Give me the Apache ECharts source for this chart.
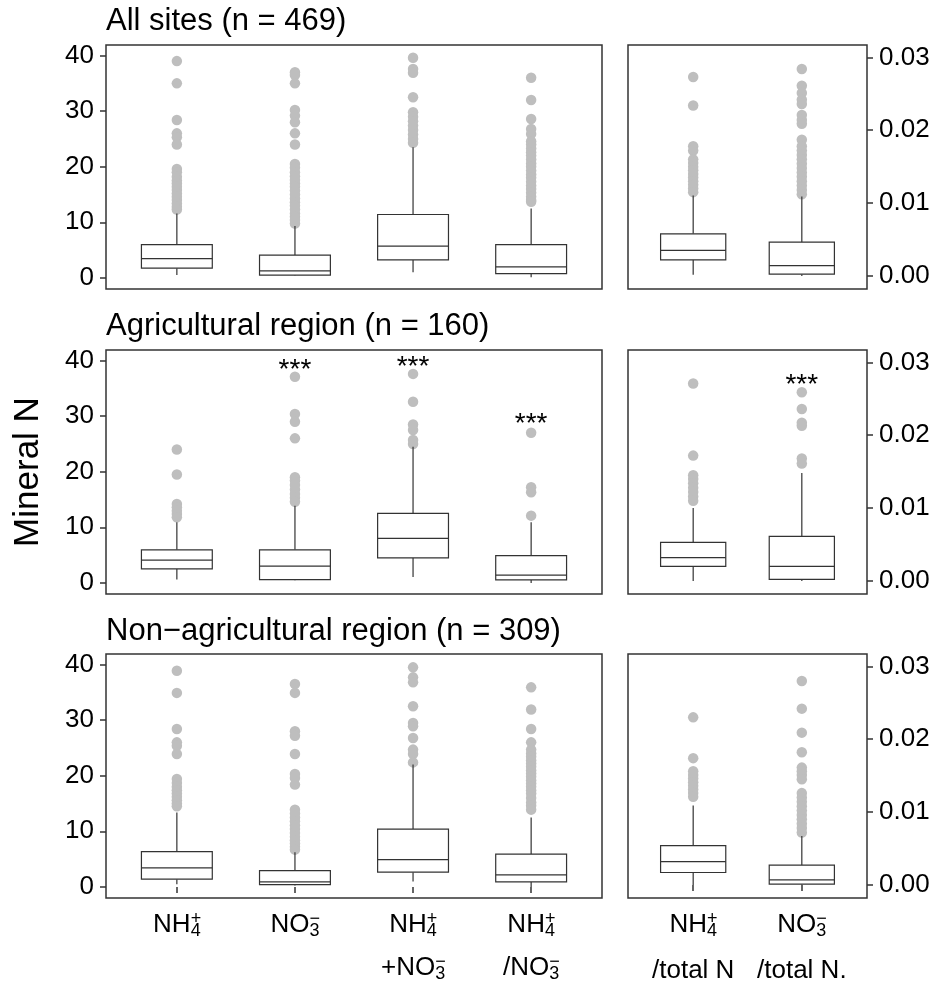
<!DOCTYPE html>
<html>
<head>
<meta charset="utf-8">
<script src="https://cdn.jsdelivr.net/npm/echarts@6/dist/echarts.min.js"></script>
<style>
html, body { margin: 0; padding: 0; background: #ffffff; }
#chart { width: 934px; height: 988px; }
</style>
</head>
<body>
<div id="chart"></div>
<script>
// ---------------- DATA ----------------
const leftCategories = ['NH4+', 'NO3-', 'NH4+ + NO3-', 'NH4+ / NO3-'];
const rightCategories = ['NH4+ / total N', 'NO3- / total N'];
const panelTitles = ['All sites (n = 469)', 'Agricultural region (n = 160)', 'Non\u2212agricultural region (n = 309)'];
const leftTickValues = [0, 10, 20, 30, 40];
const rightTickValues = [0, 0.01, 0.02, 0.03];
const leftLine1Labels = ['{m|NH}{sp|+}{sb|4}', '{m|NO}{sp|\u2212}{sb|3}', '{m|NH}{sp|+}{sb|4}', '{m|NH}{sp|+}{sb|4}'];
const leftLine2Labels = ['', '', '{m|+NO}{sp|\u2212}{sb|3}', '{m|/NO}{sp|\u2212}{sb|3}'];
const rightLine1Labels = ['{m|NH}{sp|+}{sb|4}', '{m|NO}{sp|\u2212}{sb|3}'];
const rightLine2Labels = ['{m|/total N}', '{m|/total N.}'];
const yAxisTitle = 'Mineral N';

// box statistics: [lower whisker, Q1, median, Q3, upper whisker]
const allSitesBoxes = [
  [0.54, 1.74, 3.48, 6.0, 11.6],
  [0.40, 0.48, 1.26, 4.08, 9.35],
  [1.0, 3.24, 5.7, 11.4, 23.5],
  [0.1, 0.78, 1.98, 6.0, 12.5]
];
const allSitesOutliers = [
  [39.0, 35.0, 28.4, 26.0, 25.3, 24.0, 19.6, 19.0, 18.2, 17.5, 17.0, 16.4, 15.8, 15.2, 14.6, 14.0, 13.4, 12.8, 12.3],
  [37.0, 36.5, 35.0, 30.2, 29.2, 28.0, 26.0, 24.0, 20.5, 19.8, 19.0, 18.3, 17.6, 17.0, 16.4, 15.7, 15.0, 14.3, 13.6, 13.0, 12.3, 11.6, 11.0, 10.4, 9.8],
  [39.6, 37.6, 36.9, 32.5, 29.8, 29.0, 28.2, 27.4, 26.6, 25.8, 25.0, 24.3],
  [36.0, 32.0, 28.6, 26.8, 25.9, 24.6, 24.0, 23.3, 22.6, 22.0, 21.3, 20.6, 20.0, 19.3, 18.6, 18.0, 17.3, 16.6, 16.0, 15.3, 14.6, 14.0, 13.7]
];
const allSitesRatioBoxes = [
  [0.00014, 0.0022, 0.0035, 0.00577, 0.01104],
  [0.0000, 0.00023, 0.0014, 0.00463, 0.0109]
];
const allSitesRatioOutliers = [
  [0.0273, 0.0234, 0.0178, 0.0172, 0.0160, 0.0155, 0.0150, 0.0145, 0.0140, 0.0135, 0.0130, 0.0125, 0.0120, 0.0115],
  [0.0284, 0.0261, 0.0251, 0.0242, 0.0236, 0.0221, 0.0214, 0.0209, 0.0187, 0.0178, 0.0172, 0.0166, 0.0160, 0.0154, 0.0148, 0.0142, 0.0136, 0.0130, 0.0124, 0.0118, 0.0112]
];

const agriBoxes = [
  [0.6, 2.52, 4.08, 5.95, 10.9],
  [0.48, 0.6, 3.0, 5.95, 13.9],
  [1.08, 4.5, 8.0, 12.5, 24.5],
  [0.0, 0.54, 1.38, 4.92, 10.9]
];
const agriOutliers = [
  [24.0, 19.5, 14.2, 13.6, 13.0, 12.4, 11.8],
  [37.1, 30.4, 29.0, 26.0, 19.0, 18.4, 17.6, 16.8, 16.0, 15.3, 14.6],
  [37.6, 32.6, 28.5, 27.5, 25.7, 25.0],
  [27.0, 17.2, 16.3, 12.1]
];
const agriRatioBoxes = [
  [0.0000, 0.0020, 0.0032, 0.0053, 0.0100],
  [0.0000, 0.0002, 0.0020, 0.0061, 0.0148]
];
const agriRatioOutliers = [
  [0.0271, 0.0172, 0.0145, 0.0140, 0.0134, 0.0128, 0.0122, 0.0116, 0.0110],
  [0.0259, 0.0236, 0.0217, 0.0213, 0.0168, 0.0161]
];
// significance marks: [category position, value]
const agriStars = [[2, 39.4], [3, 39.9], [4, 29.6]];
const agriRatioStars = [[2, 0.0277]];

const nonAgriBoxes = [
  [0.48, 1.38, 3.42, 6.36, 13.4],
  [0.24, 0.42, 0.9, 2.94, 6.24],
  [0.96, 2.64, 4.92, 10.4, 22.0],
  [0.0, 0.9, 2.16, 5.88, 12.5]
];
const nonAgriOutliers = [
  [38.9, 34.9, 28.4, 26.0, 25.4, 23.9, 19.4, 18.7, 18.0, 17.4, 16.8, 16.2, 15.6, 15.0, 14.5],
  [36.5, 34.9, 28.0, 27.2, 23.9, 20.3, 19.6, 18.4, 13.9, 13.2, 12.5, 11.8, 11.1, 10.4, 9.7, 9.0, 8.4, 7.8, 7.2, 6.7],
  [39.5, 37.7, 36.8, 32.5, 29.5, 28.9, 26.8, 24.7, 23.9, 22.4],
  [35.9, 31.9, 28.4, 26.0, 24.7, 24.0, 23.4, 22.8, 22.2, 21.6, 21.0, 20.4, 19.8, 19.2, 18.6, 18.0, 17.4, 16.8, 16.0, 15.2, 14.6, 13.9]
];
const nonAgriRatioBoxes = [
  [0.0000, 0.0017, 0.0032, 0.0054, 0.0109],
  [0.0000, 0.0001, 0.0007, 0.0027, 0.0067]
];
const nonAgriRatioOutliers = [
  [0.0230, 0.0174, 0.0156, 0.0151, 0.0146, 0.0141, 0.0136, 0.0131, 0.0126, 0.0121],
  [0.0280, 0.0242, 0.0209, 0.0182, 0.0161, 0.0156, 0.0151, 0.0145, 0.0126, 0.0120, 0.0114, 0.0108, 0.0102, 0.0096, 0.0090, 0.0084, 0.0078, 0.0072]
];

// ---------------- STYLE / LAYOUT ----------------
const FONT = "'Liberation Sans', Arial, Helvetica, sans-serif";
const LINE_COLOR = '#333333';
const OUTLIER_COLOR = '#bebebe';
const BOX_WIDTH = 0.6;
const ROW_TOPS = [45, 350, 654];
const PANEL_H = 244;
const LEFT_X = 106, LEFT_W = 496;
const RIGHT_X = 628, RIGHT_W = 239;
const LEFT_RANGE = [-2.0, 41.9];
const RIGHT_RANGE = [-0.0018, 0.0317];

const rows = [
  { boxes: allSitesBoxes, outliers: allSitesOutliers, rBoxes: allSitesRatioBoxes, rOutliers: allSitesRatioOutliers, stars: [], rStars: [] },
  { boxes: agriBoxes, outliers: agriOutliers, rBoxes: agriRatioBoxes, rOutliers: agriRatioOutliers, stars: agriStars, rStars: agriRatioStars },
  { boxes: nonAgriBoxes, outliers: nonAgriOutliers, rBoxes: nonAgriRatioBoxes, rOutliers: nonAgriRatioOutliers, stars: [], rStars: [] }
];

const richStyles = {
  m: { fontSize: 26, fontFamily: FONT, color: '#000', lineHeight: 30, align: 'left' },
  sp: { fontSize: 18, fontFamily: FONT, color: '#000', lineHeight: 16, verticalAlign: 'top', width: 0, align: 'left' },
  sb: { fontSize: 18, fontFamily: FONT, color: '#000', lineHeight: 12, verticalAlign: 'bottom', align: 'left' }
};

function renderBox(params, api) {
  const x = api.value(0);
  const lo = api.coord([x, api.value(1)]);
  const q1 = api.coord([x, api.value(2)]);
  const md = api.coord([x, api.value(3)]);
  const q3 = api.coord([x, api.value(4)]);
  const hi = api.coord([x, api.value(5)]);
  const half = api.size([BOX_WIDTH, 0])[0] / 2;
  const ls = { stroke: LINE_COLOR, lineWidth: 1.2, fill: null };
  return {
    type: 'group',
    children: [
      { type: 'line', shape: { x1: lo[0], y1: lo[1], x2: q1[0], y2: q1[1] }, style: ls },
      { type: 'line', shape: { x1: q3[0], y1: q3[1], x2: hi[0], y2: hi[1] }, style: ls },
      { type: 'rect', shape: { x: q1[0] - half, y: q3[1], width: 2 * half, height: q1[1] - q3[1] }, style: { fill: '#ffffff', stroke: LINE_COLOR, lineWidth: 1.2 } },
      { type: 'line', shape: { x1: md[0] - half, y1: md[1], x2: md[0] + half, y2: md[1] }, style: ls }
    ]
  };
}

function renderStar(params, api) {
  const p = api.coord([api.value(0), api.value(1)]);
  return {
    type: 'text', x: p[0], y: p[1] + 6,
    style: { text: '***', fontSize: 28, fontFamily: FONT, fill: '#000', align: 'center', textAlign: 'center', verticalAlign: 'middle', textVerticalAlign: 'middle' }
  };
}

const grids = [], xAxes = [], yAxes = [], series = [];

rows.forEach((row, r) => {
  const isBottom = r === rows.length - 1;
  [0, 1].forEach(side => {
    const gi = r * 2 + side;
    const isLeft = side === 0;
    const nCat = isLeft ? leftCategories.length : rightCategories.length;
    const catPositions = (isLeft ? leftCategories : rightCategories).map((c, i) => i + 1);
    grids.push({
      left: isLeft ? LEFT_X : RIGHT_X, width: isLeft ? LEFT_W : RIGHT_W,
      top: ROW_TOPS[r], height: PANEL_H,
      show: true, borderColor: LINE_COLOR, borderWidth: 1.5, backgroundColor: 'transparent',
      containLabel: false, outerBoundsMode: 'none'
    });
    const line1 = isLeft ? leftLine1Labels : rightLine1Labels;
    xAxes.push({
      type: 'value', gridIndex: gi, min: 0.4, max: nCat + 0.6, position: 'bottom',
      axisLine: { show: false },
      splitLine: { show: false },
      axisTick: { show: isBottom, length: 6, lineStyle: { color: LINE_COLOR, width: 1.5 }, customValues: catPositions },
      axisLabel: {
        show: isBottom, customValues: catPositions, margin: 12,
        formatter: v => line1[Math.round(v) - 1] || '', rich: richStyles
      }
    });
    yAxes.push({
      type: 'value', gridIndex: gi,
      min: isLeft ? LEFT_RANGE[0] : RIGHT_RANGE[0], max: isLeft ? LEFT_RANGE[1] : RIGHT_RANGE[1],
      position: isLeft ? 'left' : 'right',
      axisLine: { show: false },
      splitLine: { show: false },
      axisTick: { show: true, length: 6, lineStyle: { color: LINE_COLOR, width: 1.5 }, customValues: isLeft ? leftTickValues : rightTickValues },
      axisLabel: {
        show: true, customValues: isLeft ? leftTickValues : rightTickValues, margin: 12,
        fontSize: 26, fontFamily: FONT, color: '#000',
        formatter: v => isLeft ? String(Math.round(v)) : v.toFixed(2)
      }
    });
    const boxes = isLeft ? row.boxes : row.rBoxes;
    const outs = isLeft ? row.outliers : row.rOutliers;
    const stars = isLeft ? row.stars : row.rStars;
    series.push({
      type: 'scatter', xAxisIndex: gi, yAxisIndex: gi, silent: true,
      symbol: 'circle', symbolSize: 10.5,
      itemStyle: { color: OUTLIER_COLOR, opacity: 1 },
      data: outs.flatMap((vals, i) => vals.map(v => [i + 1, v])),
      z: 2
    });
    series.push({
      type: 'custom', xAxisIndex: gi, yAxisIndex: gi, silent: true,
      renderItem: renderBox,
      encode: { x: 0, y: [1, 2, 3, 4, 5] },
      data: boxes.map((b, i) => [i + 1].concat(b)),
      z: 3
    });
    if (stars.length) {
      series.push({
        type: 'custom', xAxisIndex: gi, yAxisIndex: gi, silent: true,
        renderItem: renderStar,
        encode: { x: 0, y: 1 },
        data: stars,
        z: 4
      });
    }
  });
});

// second-line labels under the bottom row
xAxes.push({
  type: 'value', gridIndex: 4, min: 0.4, max: leftCategories.length + 0.6, position: 'bottom',
  axisLine: { show: false }, axisTick: { show: false }, splitLine: { show: false },
  axisLabel: { show: true, customValues: [3, 4], margin: 55, formatter: v => leftLine2Labels[Math.round(v) - 1] || '', rich: richStyles }
});
xAxes.push({
  type: 'value', gridIndex: 5, min: 0.4, max: rightCategories.length + 0.6, position: 'bottom',
  axisLine: { show: false }, axisTick: { show: false }, splitLine: { show: false },
  axisLabel: { show: true, customValues: [1, 2], margin: 58, formatter: v => rightLine2Labels[Math.round(v) - 1] || '', rich: richStyles }
});

const titleBaselineMid = [21, 326, 631];
const graphics = panelTitles.map((t, i) => ({
  type: 'text', x: LEFT_X, y: titleBaselineMid[i], silent: true,
  style: { text: t, fontSize: 31, fontFamily: FONT, fill: '#000', align: 'left', textAlign: 'left', verticalAlign: 'middle', textVerticalAlign: 'middle' }
}));
graphics.push({
  type: 'text', x: 28, y: 472, rotation: Math.PI / 2, silent: true,
  style: { text: yAxisTitle, fontSize: 35, fontFamily: FONT, fill: '#000', align: 'center', textAlign: 'center', verticalAlign: 'middle', textVerticalAlign: 'middle' }
});

const chart = echarts.init(document.getElementById('chart'), null, { renderer: 'canvas' });
chart.setOption({
  animation: false,
  backgroundColor: '#ffffff',
  textStyle: { fontFamily: FONT },
  grid: grids,
  xAxis: xAxes,
  yAxis: yAxes,
  series: series,
  graphic: graphics
});
</script>
</body>
</html>
